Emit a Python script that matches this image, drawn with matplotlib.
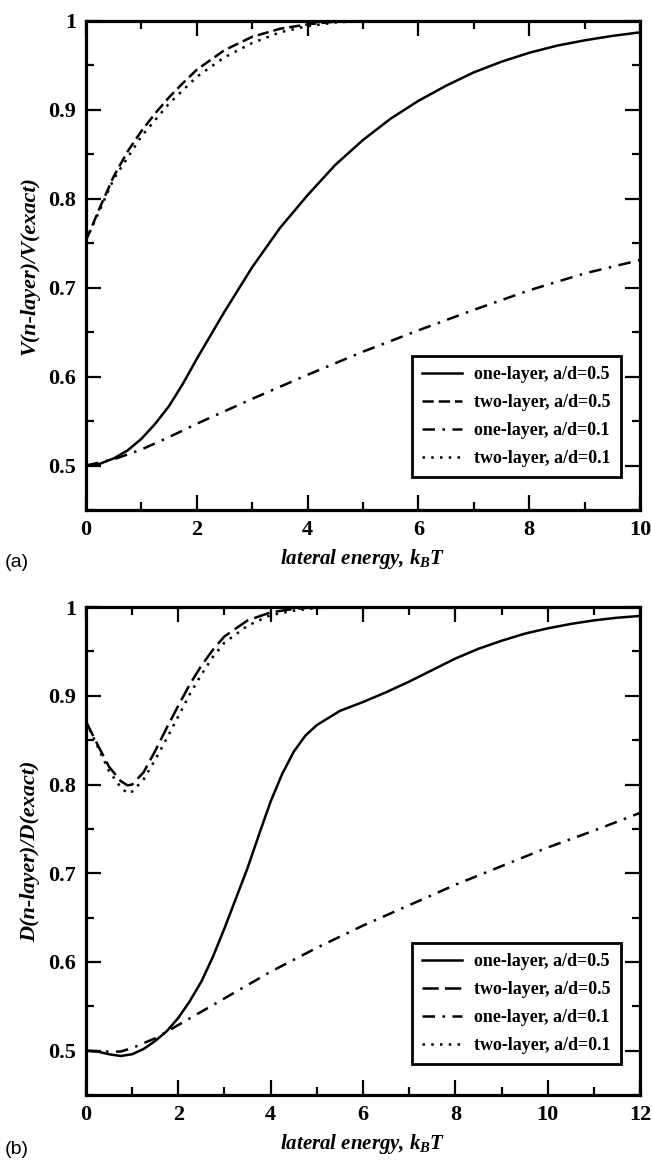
import numpy as np
import matplotlib
matplotlib.use("Agg")
import matplotlib.pyplot as plt
from matplotlib.ticker import MultipleLocator, FormatStrFormatter

# fonts
plt.rcParams['font.family'] = ['Liberation Serif', 'DejaVu Serif']
plt.rcParams['mathtext.fontset'] = 'custom'
plt.rcParams['mathtext.it'] = 'Liberation Serif:italic:bold'
plt.rcParams['mathtext.rm'] = 'Liberation Serif:bold'

# panel (a) data, V(n-layer)/V(exact)
a_one05_x = [0, 0.25, 0.5, 0.75, 1, 1.25, 1.5, 1.75, 2, 2.5, 3, 3.5, 4, 4.5, 5, 5.5, 6, 6.5, 7, 7.5, 8, 8.5, 9, 9.5, 10]
a_one05_y = [0.500, 0.502, 0.508, 0.517, 0.530, 0.547, 0.567, 0.592, 0.620, 0.673, 0.723, 0.767, 0.804, 0.838, 0.866, 0.890, 0.910, 0.927, 0.942, 0.954, 0.964, 0.972, 0.978, 0.983, 0.987]

a_two05_x = [0, 0.25, 0.5, 0.75, 1, 1.25, 1.5, 1.75, 2, 2.5, 3, 3.5, 4, 4.5, 5]
a_two05_y = [0.753, 0.790, 0.825, 0.853, 0.876, 0.896, 0.914, 0.930, 0.945, 0.967, 0.982, 0.991, 0.996, 0.999, 1.0]

a_one01_x = [0, 0.5, 1, 1.5, 2, 3, 4, 5, 6, 7, 8, 9, 10]
a_one01_y = [0.500, 0.507, 0.518, 0.532, 0.547, 0.575, 0.602, 0.628, 0.652, 0.675, 0.697, 0.716, 0.731]

a_two01_x = [0, 0.5, 1, 1.5, 2, 2.5, 3, 3.5, 4, 4.5, 5]
a_two01_y = [0.753, 0.822, 0.870, 0.907, 0.937, 0.959, 0.975, 0.987, 0.994, 0.998, 1.0]

# panel (b) data, D(n-layer)/D(exact)
b_one05_x = [0, 0.25, 0.5, 0.75, 1, 1.25, 1.5, 1.75, 2, 2.25, 2.5, 2.75, 3, 3.25, 3.5, 3.75, 4, 4.25, 4.5, 4.75, 5,
             5.5, 6, 6.5, 7, 7.5, 8, 8.5, 9, 9.5, 10, 10.5, 11, 11.5, 12]
b_one05_y = [0.500, 0.499, 0.496, 0.494, 0.496, 0.502, 0.511, 0.522, 0.537, 0.556, 0.578, 0.606, 0.638, 0.672, 0.706,
             0.744, 0.781, 0.812, 0.837, 0.855, 0.867, 0.883, 0.893, 0.904, 0.916, 0.929, 0.942, 0.953, 0.962, 0.970,
             0.976, 0.981, 0.985, 0.988, 0.990]

b_two05_x = [0, 0.25, 0.5, 0.75, 0.9, 1, 1.25, 1.5, 1.75, 2, 2.25, 2.5, 2.75, 3, 3.5, 4, 4.5, 5]
b_two05_y = [0.871, 0.845, 0.820, 0.804, 0.799, 0.800, 0.814, 0.838, 0.864, 0.889, 0.913, 0.934, 0.952, 0.967, 0.985, 0.994, 0.998, 1.0]

b_one01_x = [0, 0.5, 0.75, 1, 1.5, 2, 3, 4, 5, 6, 7, 8, 9, 10, 11, 12]
b_one01_y = [0.500, 0.499, 0.499, 0.503, 0.514, 0.529, 0.559, 0.589, 0.616, 0.641, 0.664, 0.687, 0.708, 0.729, 0.748, 0.768]

b_two01_x = [0, 0.25, 0.5, 0.75, 0.9, 1, 1.25, 1.5, 1.75, 2, 2.25, 2.5, 2.75, 3, 3.5, 4, 4.5, 5, 5.5]
b_two01_y = [0.871, 0.843, 0.815, 0.797, 0.790, 0.792, 0.806, 0.828, 0.852, 0.877, 0.902, 0.924, 0.944, 0.960, 0.979, 0.991, 0.996, 0.999, 1.0]

labels = ['one-layer, a/d=0.5', 'two-layer, a/d=0.5', 'one-layer, a/d=0.1', 'two-layer, a/d=0.1']

fig = plt.figure(figsize=(6.52, 11.61), dpi=100)
ax1 = fig.add_axes([0.1319, 0.5607, 0.8497, 0.4214])
ax2 = fig.add_axes([0.1319, 0.0568, 0.8497, 0.4203])

lw = 1.8


def style_axes(ax, xmax, ylab):
    ax.set_xlim(0, xmax)
    ax.set_ylim(0.45, 1.0)
    ax.xaxis.set_major_locator(MultipleLocator(2))
    ax.xaxis.set_minor_locator(MultipleLocator(1))
    ax.yaxis.set_major_locator(MultipleLocator(0.1))
    ax.yaxis.set_minor_locator(MultipleLocator(0.05))
    ax.xaxis.set_major_formatter(FormatStrFormatter('%g'))
    ax.yaxis.set_major_formatter(FormatStrFormatter('%g'))
    ax.tick_params(which='both', direction='in', top=True, right=True, width=1.6)
    ax.tick_params(which='major', length=11, labelsize=16, pad=7)
    ax.tick_params(which='minor', length=6)
    for t in ax.get_xticklabels() + ax.get_yticklabels():
        t.set_fontweight('bold')
    for s in ax.spines.values():
        s.set_linewidth(2.3)
    ax.set_xlabel(r'lateral energy, $k_B T$', fontsize=15, fontweight='bold', fontstyle='italic', labelpad=5)
    ax.set_ylabel(ylab, fontsize=16, fontweight='bold', fontstyle='italic', labelpad=6)


# (a)
ax1.plot(a_one05_x, a_one05_y, color='black', lw=lw, label=labels[0])
ax1.plot(a_two05_x, a_two05_y, color='black', lw=lw, dashes=(4.5, 2), label=labels[1])
ax1.plot(a_one01_x, a_one01_y, color='black', lw=lw, dashes=(5, 3, 1, 3), label=labels[2])
ax1.plot(a_two01_x, a_two01_y, color='black', lw=lw, dashes=(1, 2.5), label=labels[3])
style_axes(ax1, 10, 'V(n-layer)/V(exact)')

# (b)
ax2.plot(b_one05_x, b_one05_y, color='black', lw=lw, label=labels[0])
ax2.plot(b_two05_x, b_two05_y, color='black', lw=lw, dashes=(6.5, 2.5), label=labels[1])
ax2.plot(b_one01_x, b_one01_y, color='black', lw=lw, dashes=(5, 3, 1, 3), label=labels[2])
ax2.plot(b_two01_x, b_two01_y, color='black', lw=lw, dashes=(1, 2.5), label=labels[3])
style_axes(ax2, 12, 'D(n-layer)/D(exact)')

for ax, yb in [(ax1, 0.068), (ax2, 0.064)]:
    leg = ax.legend(loc='lower right', bbox_to_anchor=(0.965, yb), fancybox=False, framealpha=1,
                    edgecolor='black', handlelength=2.2, handletextpad=0.7, labelspacing=0.6,
                    borderpad=0.55, borderaxespad=0,
                    prop={'family': 'Liberation Serif', 'weight': 'bold', 'size': 13})
    leg.get_frame().set_linewidth(2.0)

# panel letters
fig.text(0.008, 1 - 563 / 1161, '(a)', fontsize=14, family='Liberation Sans', va='center')
fig.text(0.008, 1 - 1150 / 1161, '(b)', fontsize=14, family='Liberation Sans', va='center')

plt.savefig('out.png', dpi=100)
